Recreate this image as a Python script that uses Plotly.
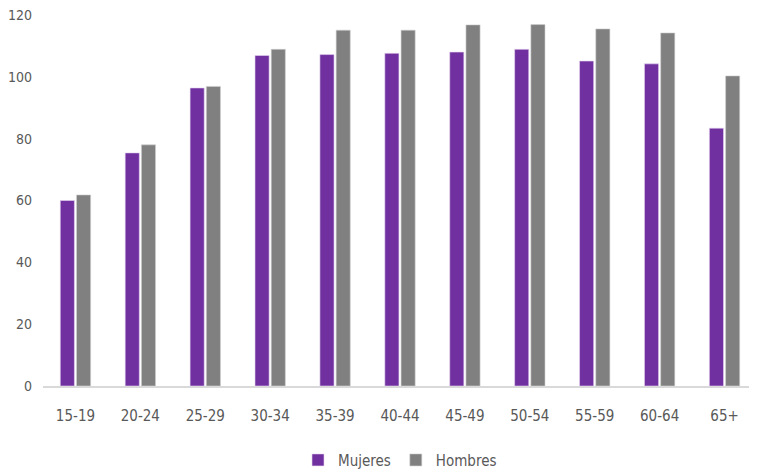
import plotly.graph_objects as go

categories = ["15-19", "20-24", "25-29", "30-34", "35-39", "40-44", "45-49", "50-54", "55-59", "60-64", "65+"]
mujeres = [60.0, 75.4, 96.4, 106.9, 107.2, 107.6, 108.0, 108.9, 105.1, 104.2, 83.4]
hombres = [61.8, 78.0, 96.9, 108.9, 115.1, 115.1, 116.8, 116.9, 115.5, 114.2, 100.3]
y_ticks = [0, 20, 40, 60, 80, 100, 120]

FONT = "DejaVu Sans Condensed"

fig = go.Figure()
fig.add_trace(go.Bar(x=categories, y=mujeres, name="Mujeres",
                     marker=dict(color="#7030A0", line=dict(color="#E6D5F0", width=0.6))))
fig.add_trace(go.Bar(x=categories, y=hombres, name="Hombres",
                     marker=dict(color="#808080", line=dict(color="#D0D0D0", width=0.6))))

fig.update_layout(
    width=757, height=472,
    margin=dict(l=35, r=8, t=7, b=94),
    paper_bgcolor="white", plot_bgcolor="white",
    barmode="group", bargap=0.5, bargroupgap=0.13,
    font=dict(family=FONT, color="#595959", size=15),
    showlegend=True,
    legend=dict(orientation="h", x=0.5, xanchor="center",
                yref="container", y=0.042, yanchor="middle",
                font=dict(family=FONT, size=15, color="#595959"), itemwidth=30,
                traceorder="normal"),
    xaxis=dict(showgrid=False, showline=True, linecolor="#D9D9D9", linewidth=1.5,
               ticks="", ticklabelstandoff=15, automargin=False,
               tickfont=dict(family=FONT, size=15, color="#595959")),
    yaxis=dict(range=[0, 120], tickvals=y_ticks, showgrid=False, zeroline=False,
               showline=False, ticks="", ticklabelstandoff=10, automargin=False,
               ticklabeloverflow="allow",
               tickfont=dict(family=FONT, size=14, color="#595959")),
)

fig.write_html("out.html")
